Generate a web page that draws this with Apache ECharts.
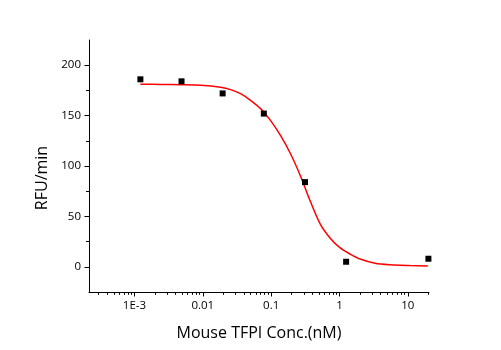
<!DOCTYPE html>
<html><head><meta charset="utf-8">
<script src="https://cdn.jsdelivr.net/npm/echarts@6/dist/echarts.min.js"></script>
<style>html,body{margin:0;padding:0;background:#fff}#c{width:501px;height:350px}</style>
</head><body><div id="c"></div>
<script>
// Measured points (concentration nM, RFU/min)
const concentrations = [0.00122, 0.00488, 0.0195, 0.0781, 0.3125, 1.25, 20];
const rfu = [186, 184, 172, 152, 84, 5, 8];
// Fitted curve
const curveConc = [0.00122, 0.002432, 0.004764, 0.009311, 0.01824, 0.02551, 0.03565, 0.04989, 0.06998, 0.0977, 0.1368, 0.1911, 0.2674, 0.3740, 0.5233, 0.7318, 1.0238, 1.432, 2.003, 3.314, 5.484, 10.73, 19.63];
const curveRfu = [181.1, 180.9, 180.6, 180.1, 178.1, 175.8, 171.8, 165.2, 156.9, 145.3, 130.3, 112.4, 90.4, 65.0, 42.4, 28.4, 18.7, 12.6, 7.7, 3.5, 2.0, 1.2, 0.7];
// Axis ticks
const xTickValues = [0.001, 0.01, 0.1, 1, 10];
const xTickLabels = ['1E-3', '0.01', '0.1', '1', '10'];
const yTickValues = [0, 50, 100, 150, 200];
const yMinorTickValues = [25, 75, 125, 175];
const xMin = 2.16e-4, xMax = 20.4;

const lg = v => Math.log10(v);
const xMinorTicks = [];
for (let d = -4; d <= 1; d++) {
  for (let k = 2; k <= 9; k++) {
    const v = k * Math.pow(10, d);
    if (v > xMin && v < xMax) xMinorTicks.push(lg(v));
  }
}
const labelMap = {};
xTickValues.forEach((v, i) => { labelMap[Math.round(lg(v))] = xTickLabels[i]; });

const font = '"Open Sans", sans-serif';
const axisCommon = {
  axisLine: { onZero: false, lineStyle: { color: '#000', width: 1 } },
  splitLine: { show: false }
};

const chart = echarts.init(document.getElementById('c'), null, { renderer: 'canvas' });
chart.setOption({
  animation: false,
  backgroundColor: '#fff',
  grid: { left: 89, right: 72, top: 40, bottom: 58 },
  xAxis: [{
    type: 'value', position: 'bottom', min: lg(xMin), max: lg(xMax),
    ...axisCommon,
    axisTick: { length: 4.5, lineStyle: { color: '#000' }, customValues: xTickValues.map(lg) },
    axisLabel: { customValues: xTickValues.map(lg), formatter: v => labelMap[Math.round(v)] || '',
      color: '#000', fontFamily: font, fontSize: 11.5, margin: 8 },
    name: 'Mouse TFPI Conc.(nM)', nameLocation: 'middle', nameGap: 33,
    nameTextStyle: { color: '#000', fontFamily: font, fontSize: 16 }
  }, {
    type: 'value', position: 'bottom', min: lg(xMin), max: lg(xMax),
    axisLine: { show: false, onZero: false }, splitLine: { show: false },
    axisTick: { length: 2.8, lineStyle: { color: '#000' }, customValues: xMinorTicks },
    axisLabel: { show: false }
  }],
  yAxis: [{
    type: 'value', position: 'left', min: -25, max: 225, interval: 25,
    ...axisCommon,
    axisTick: { length: 4.5, lineStyle: { color: '#000' }, customValues: yTickValues },
    axisLabel: { customValues: yTickValues, color: '#000', fontFamily: font, fontSize: 11.5, margin: 8 },
    name: 'RFU/min', nameLocation: 'middle', nameGap: 36, nameRotate: 90,
    nameTextStyle: { color: '#000', fontFamily: font, fontSize: 16, padding: [0, 24, 0, 0] }
  }, {
    type: 'value', position: 'left', min: -25, max: 225, interval: 25,
    axisLine: { show: false, onZero: false }, splitLine: { show: false },
    axisTick: { length: 3, lineStyle: { color: '#000' }, customValues: yMinorTickValues },
    axisLabel: { show: false }
  }],
  series: [{
    type: 'line', xAxisIndex: 0, yAxisIndex: 0,
    data: curveConc.map((c, i) => [lg(c), curveRfu[i]]),
    smooth: 0.3, showSymbol: false, symbol: 'none',
    lineStyle: { color: '#ff0000', width: 1.5 }, z: 2
  }, {
    type: 'scatter', xAxisIndex: 0, yAxisIndex: 0,
    data: concentrations.map((c, i) => [lg(c), rfu[i]]),
    symbol: 'rect', symbolSize: 6,
    itemStyle: { color: '#000', opacity: 1 }, z: 3
  }]
});
</script></body></html>
